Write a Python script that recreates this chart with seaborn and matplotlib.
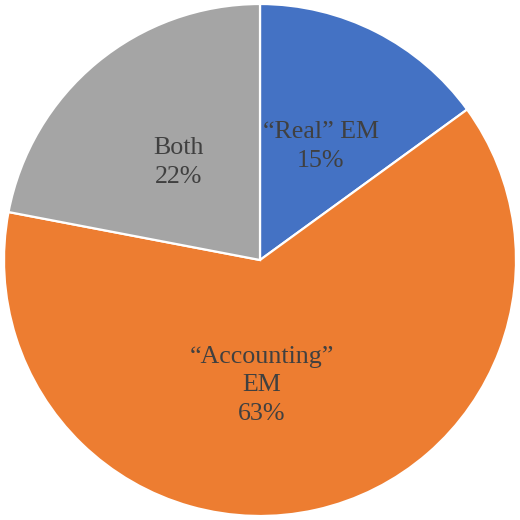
import matplotlib
matplotlib.use("Agg")
import matplotlib.pyplot as plt
import seaborn as sns

categories = ["\u201cReal\u201d EM", "\u201cAccounting\u201d\nEM", "Both"]
values = [15, 63, 22]
colors = ["#4472C4", "#ED7D31", "#A5A5A5"]

sns.set_theme(style="white")
plt.rcParams["font.family"] = ["Liberation Serif", "DejaVu Serif"]

fig = plt.figure(figsize=(5.2, 5.2), dpi=100)
ax = fig.add_axes([0, 0, 1, 1])
wedges, _ = ax.pie(values, colors=colors, startangle=90, counterclock=False,
                   radius=1.0, wedgeprops=dict(edgecolor="white", linewidth=1.6))
lim = 260 / 256
ax.set_xlim(-lim, lim)
ax.set_ylim(-lim, lim)
ax.set_aspect("equal")
ax.axis("off")

label_pos = [(0.238, 0.443), (0.008, -0.49), (-0.32, 0.38)]
for cat, v, (x, y) in zip(categories, values, label_pos):
    ax.text(x, y, f"{cat}\n{v}%", ha="center", va="center", fontsize=18.7,
            color="#404040", linespacing=1.38)

fig.savefig("out.png", dpi=100)
